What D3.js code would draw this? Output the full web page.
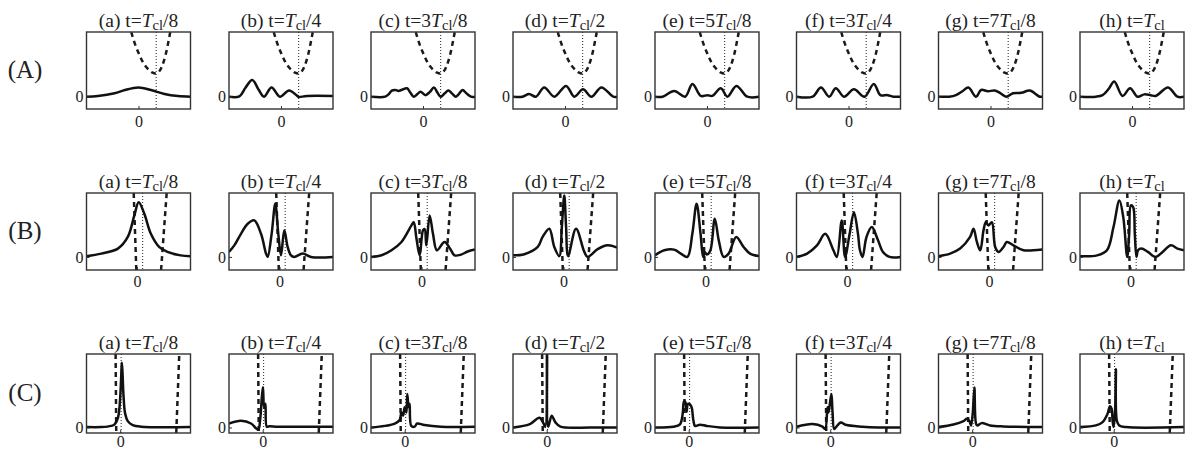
<!DOCTYPE html>
<html>
<head>
<meta charset="utf-8">
<script src="https://cdn.jsdelivr.net/npm/d3@7"></script>
<style>
  body { margin: 0; background: #fff; }
  text { font-family: "Liberation Serif", "Times New Roman", serif; fill: #222; }
</style>
</head>
<body>
<div id="chart"></div>
<script>
var width = 1187, height = 453;

var rowLabels = ["(A)", "(B)", "(C)"];
var panelLetters = ["a", "b", "c", "d", "e", "f", "g", "h"];
var timeNum = ["", "", "3", "", "5", "3", "7", ""];
var timeDen = ["/8", "/4", "/8", "/2", "/8", "/4", "/8", ""];

// each row has its own x / y range, 0 is where the tick sits
var xDomA = [-50, 50], xDomB = [-48.6, 51.4], xDomC = [-32.4, 67.6];
var yDomA = [-16, 84], yDomB = [-17, 83], yDomC = [-7, 93];

// potentials (dashed) and centre marker (dotted)
var potA = [[[-9,95],[-7,84],[-3,67],[1,54],[5,43],[9,36],[13,31.5],[17,30],[20,33],[23,41],[26,54],[29,73],[30.5,84],[31.5,94]]];
var potB = [[[-3.2,83],[-0.7,-17]], [[23.1,-17],[28.5,83]]];
var potC = [[[-4.4,93],[-3.8,-7]], [[53.9,-7],[56.8,93]]];
var dotA = 17, dotB = 5.4, dotC = 0.9;

var waveA = [
  [[-50,0],[-39,0.8],[-23,4.4],[-13,8.7],[0,12],[12,8.7],[25,3.5],[38,0.8],[50,0]],
  [[-50,0],[-40,0.5],[-34,12],[-27.6,21.7],[-21.5,9],[-16.4,0],[-9.1,12],[-1,0],[7.7,8],[16,0.5],[17,-0.5],[25,1],[50,1]],
  [[-50,0],[-36.4,0],[-33.2,3],[-30,7.9],[-26.7,8.7],[-23.5,7.5],[-20.2,9],[-15.4,10.9],[-12.1,5],[-8.9,0],[-5.7,3],[-2.4,6.5],[2.4,2],[6.5,6],[10.5,11.8],[14,5],[17,0],[20.7,4],[24.4,7.9],[28,4],[31.6,0],[34.8,4],[38,8.7],[42,4],[46.1,0],[50,0]],
  [[-50,0],[-41,0],[-34.5,3.5],[-28,0],[-20,12],[-10.2,0],[1,14],[9,0],[17.3,9.6],[25.4,0],[35,12],[46.4,0],[50,0]],
  [[-50,0],[-42.7,0],[-31.5,7.4],[-21,0],[-14,16.6],[-6,1],[0.5,2],[5,1],[13.3,10.9],[19.6,0],[28.3,14],[38.8,0],[50,0]],
  [[-50,0],[-34.5,0],[-26.5,12],[-18.6,0],[-12.2,11],[-4.3,0],[5.2,9.6],[15.4,0],[24.3,16.6],[30.7,2],[37.6,2],[43,0],[50,0]],
  [[-50,0],[-39.7,0],[-33.2,2],[-27,7],[-21.3,11.8],[-13.9,0],[-9,8.7],[-2.6,7],[3.9,8],[9,5],[15.2,0],[21.6,4.4],[29.7,5],[37.7,7.9],[47.4,0],[50,0]],
  [[-50,0],[-34.7,0],[-28.3,2],[-22.5,10],[-17.1,19.7],[-9.1,1],[-1.8,11],[5.3,0],[11.7,3],[18,2],[22.8,1],[34.7,12],[43.6,0],[50,0]]
];

var waveB = [
  [[-48.6,1],[-34.3,4.3],[-18.4,10.8],[-8.9,25.9],[-2.6,53.9],[1.6,71.1],[7,56],[13.3,30],[21.2,13],[29.2,6.5],[41.9,2],[51.4,1]],
  [[-48.6,6.5],[-43.5,15],[-37.1,30],[-30.6,43],[-24.3,47.4],[-17.8,30],[-13,4.3],[-11.4,0],[-7.6,30],[-4.1,69],[-1.2,30],[1.4,2],[4.6,34.5],[7.8,13],[11,2],[14.2,0],[22.3,4.3],[30.2,0],[51.4,0]],
  [[-48.6,0],[-38.4,2.2],[-28.9,8.6],[-19.3,19.4],[-9.7,41],[-7.5,45],[-5,25],[-1.8,2],[1.4,34.5],[3,36],[4.6,15],[7.8,53.9],[11,30],[14.8,8.6],[22.1,19.4],[27.8,10],[31.7,2],[38,3],[44.4,7],[51.4,9.5]],
  [[-48.6,2],[-37.7,3.5],[-24.8,12.9],[-20.1,26],[-13.7,36.6],[-8.9,12.9],[-4.1,1],[-1.6,40],[0.7,79.7],[2.4,40],[4.4,1],[12,36.6],[20,6.5],[23.2,0],[32.8,10],[42.4,15],[51.4,12]],
  [[-48.6,2],[-39.7,8.6],[-30.2,9.5],[-23.8,4.3],[-17.5,0],[-12.7,30],[-8.6,69],[-4.8,30],[-2.3,0],[-0.6,6],[1.4,3],[4.7,8.6],[8.9,49.6],[12.7,21.5],[17.4,0],[22.2,4.3],[29.5,25.9],[36.5,13],[42.8,4.3],[51.4,1]],
  [[-48.6,0],[-38.4,4.3],[-28.9,15],[-21,30],[-13.1,8.6],[-9.8,0],[-5.1,47.4],[-1.9,0],[2.5,30],[6.6,58],[10.5,30],[12.4,8.6],[14.9,0],[18.7,25.9],[23.8,38.8],[29.8,21.5],[34.5,6.5],[40.9,0],[51.4,0]],
  [[-48.6,1],[-37.4,4.3],[-27.8,10.8],[-18.2,25.9],[-14.9,36.6],[-11.7,19.4],[-8.5,8.6],[-5.3,34.5],[-3.1,45],[-0.5,40.9],[2.7,45],[5.9,12.9],[9.1,6.5],[13.9,12.9],[17.1,19.4],[23.5,15],[33.1,8.6],[42.7,8.6],[51.4,9.5]],
  [[-48.6,1],[-32.2,2],[-22.7,8.6],[-16.4,38.8],[-10.7,73.3],[-7,51.7],[-3.2,0],[-1.3,30],[0.3,66.8],[2.5,64.7],[4.1,30],[5.7,0],[7.2,8.6],[10.4,10.8],[16.7,6.5],[24,0],[30.9,6.5],[38.8,15],[45.1,10.8],[51.4,8.6]]
];

var waveC = [
  [[-32.4,0.5],[-18.1,0.5],[-8.6,2],[-5.4,4],[-2.2,12],[-0.7,25],[0.3,45],[1.3,75],[1.6,82],[2.2,70],[3.2,40],[4.7,18],[7.3,8],[12,3],[20,1],[67.6,0.5]],
  [[-32.4,5],[-20.9,8.5],[-11.2,5],[-6.4,-1],[-4.2,-3],[-2.3,12],[-0.7,40],[0.3,51],[1.3,25],[2.6,30],[3.9,1],[6.4,1.5],[14.4,1],[36.8,1],[67.6,1]],
  [[-32.4,0],[-19.1,2],[-9.5,5],[-4.8,9.4],[-3.2,19],[-1.6,15],[0,25.5],[1.6,19],[2.5,42.5],[3.8,25.5],[4.7,30],[6.3,2],[9.5,1],[12,5],[19,3],[34.9,1],[67.6,1]],
  [[-32.4,0],[-16.2,4.3],[-6.9,12.3],[-3,5],[-1.3,1],[0.3,95],[1.5,1],[4.8,14.9],[8.4,6.4],[13.2,1],[42.4,0],[67.6,0]],
  [[-32.4,0],[-14.8,1],[-8.4,4],[-5.8,17],[-4.5,33],[-3.2,32],[-2,20],[-0.7,30],[1.3,29],[2.9,25],[4.5,9],[6.1,2],[10.9,3.5],[17.3,2],[30.1,0],[67.6,0]],
  [[-32.4,1],[-16.9,4.3],[-7.4,1],[-4.8,-2],[-2.6,25.5],[-1.6,19],[-0.3,30],[1.2,42.5],[2.2,21],[3.8,-2],[5.4,0],[10.2,6.4],[14.9,3.4],[30.8,1],[46.6,0],[67.6,0]],
  [[-32.4,0.5],[-18,3.8],[-8.4,8.1],[-5.2,11],[-2.7,8.1],[-1.1,2.6],[0.5,17.4],[2.1,50.6],[3.7,4.7],[5,2.6],[9.1,5.5],[17.1,2.6],[29.9,1.3],[67.6,0.5]],
  [[-32.4,0.5],[-17.1,2.6],[-10.7,6.8],[-5.9,17.4],[-3.6,26.8],[-2,23.8],[-1.1,8.9],[-0.1,0.5],[1.3,20],[2.1,73.6],[3,8.9],[5.3,2.6],[11.7,0.5],[67.6,0.5]]
];

// layout
var panelLeft = [86.5, 229, 371, 513, 655, 796.5, 938.5, 1080];
var panelW = 104;
var rows = [
  { top: 32,  h: 77, xDom: xDomA, yDom: yDomA, waves: waveA, pot: potA, dot: dotA, xPad: 7 },
  { top: 193, h: 77, xDom: xDomB, yDom: yDomB, waves: waveB, pot: potB, dot: dotB, xPad: 6 },
  { top: 354, h: 79, xDom: xDomC, yDom: yDomC, waves: waveC, pot: potC, dot: dotC, xPad: 3 }
];

var svg = d3.select("#chart").append("svg")
  .attr("width", width)
  .attr("height", height);

var defs = svg.append("defs");

rows.forEach(function(row, r) {
  // row label
  svg.append("text")
    .attr("x", 25)
    .attr("y", row.top + row.h / 2 + 7)
    .attr("text-anchor", "middle")
    .attr("font-size", 25)
    .text(rowLabels[r]);

  var x = d3.scaleLinear().domain(row.xDom).range([0, panelW]);
  var y = d3.scaleLinear().domain(row.yDom).range([row.h, 0]);

  var line = d3.line()
    .x(function(d) { return x(d[0]); })
    .y(function(d) { return y(d[1]); })
    .curve(d3.curveCatmullRom.alpha(0.5));

  row.waves.forEach(function(wave, j) {
    var g = svg.append("g")
      .attr("transform", "translate(" + panelLeft[j] + "," + row.top + ")");

    var clipId = "clip-" + r + "-" + j;
    defs.append("clipPath").attr("id", clipId)
      .append("rect").attr("width", panelW).attr("height", row.h);

    var inner = g.append("g").attr("clip-path", "url(#" + clipId + ")");

    // dotted centre line
    inner.append("line")
      .attr("x1", x(row.dot)).attr("x2", x(row.dot))
      .attr("y1", 0).attr("y2", row.h)
      .attr("stroke", "#222")
      .attr("stroke-width", 1)
      .attr("stroke-dasharray", "1,2");

    // potential
    row.pot.forEach(function(seg) {
      inner.append("path")
        .attr("d", line(seg))
        .attr("fill", "none")
        .attr("stroke", "#1a1a1a")
        .attr("stroke-width", 2.5)
        .attr("stroke-dasharray", "5,4");
    });

    // wave
    inner.append("path")
      .attr("d", line(wave))
      .attr("fill", "none")
      .attr("stroke", "#111")
      .attr("stroke-width", 2.5)
      .attr("stroke-linejoin", "round");

    // frame
    g.append("rect")
      .attr("width", panelW).attr("height", row.h)
      .attr("fill", "none")
      .attr("stroke", "#333")
      .attr("stroke-width", 1.4);

    // axes: just the 0 tick
    var xAxis = d3.axisBottom(x).tickValues([0]).tickFormat(d3.format("d"))
      .tickSizeInner(-3).tickSizeOuter(0).tickPadding(row.xPad);
    var yAxis = d3.axisLeft(y).tickValues([0]).tickFormat(d3.format("d"))
      .tickSizeInner(-3).tickSizeOuter(0).tickPadding(3);

    var gx = g.append("g").attr("transform", "translate(0," + row.h + ")").call(xAxis);
    var gy = g.append("g").call(yAxis);
    [gx, gy].forEach(function(a) {
      a.select(".domain").remove();
      a.selectAll("line").attr("stroke", "#333");
      a.selectAll("text")
        .attr("font-family", "Liberation Serif, serif")
        .attr("font-size", 16)
        .attr("fill", "#222");
    });

    // title
    var title = g.append("text")
      .attr("x", panelW / 2)
      .attr("y", -5.5)
      .attr("text-anchor", "middle")
      .attr("font-size", 19.5);
    title.append("tspan").text("(" + panelLetters[j] + ") t=" + timeNum[j]);
    title.append("tspan").attr("font-style", "italic").text("T");
    title.append("tspan").attr("font-size", 14.5).attr("dy", 3).text("cl");
    if (timeDen[j]) title.append("tspan").attr("dy", -3).text(timeDen[j]);
  });
});
</script>
</body>
</html>
